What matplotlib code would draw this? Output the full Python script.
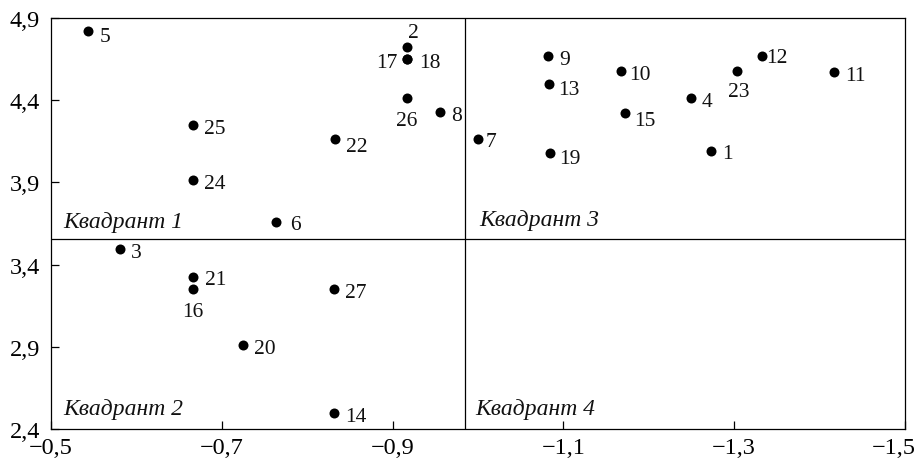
import matplotlib.pyplot as plt
from matplotlib.ticker import FixedLocator, FuncFormatter
from matplotlib.transforms import ScaledTranslation

# ---------------------------------------------------------------------------
# Data
# ---------------------------------------------------------------------------
point_labels = [str(i) for i in range(1, 28)]
x_vals = [-1.273, -0.917, -0.581, -1.249, -0.543, -0.763, -1.000, -0.955, -1.082,
          -1.167, -1.417, -1.333, -1.083, -0.831, -1.172, -0.666, -0.917, -0.917,
          -1.084, -0.725, -0.666, -0.833, -1.303, -0.666, -0.666, -0.917, -0.831]
y_vals = [4.091, 4.725, 3.497, 4.415, 4.823, 3.661, 4.164, 4.326, 4.667,
          4.578, 4.573, 4.667, 4.499, 2.497, 4.324, 3.250, 4.651, 4.651,
          4.079, 2.909, 3.323, 4.164, 4.578, 3.915, 4.249, 4.413, 3.252]

x_split = -0.985
y_split = 3.555
x_ticks = [-0.5, -0.7, -0.9, -1.1, -1.3, -1.5]
y_ticks = [2.4, 2.9, 3.4, 3.9, 4.4, 4.9]
quadrant_names = ["Квадрант 1", "Квадрант 2", "Квадрант 3", "Квадрант 4"]

# label offsets in points (dx, dy to baseline, ha); default is right of the dot
DEFAULT_OFFSET = (8.0, -5.8, "left")
label_offsets = {
    "2": (4.3, 7.0, "center"),
    "17": (-7.0, -5.5, "right"),
    "18": (8.5, -5.5, "left"),
    "26": (0.0, -19.2, "center"),
    "23": (1.5, -17.8, "center"),
    "16": (0.0, -19.4, "center"),
    "22": (7.5, -8.4, "left"),
    "15": (7.0, -8.9, "left"),
    "13": (6.5, -7.2, "left"),
    "19": (6.5, -7.2, "left"),
    "5": (8.5, -7.2, "left"),
    "7": (5.5, -4.8, "left"),
    "12": (2.5, -3.9, "left"),
    "10": (6.0, -5.8, "left"),
    "1": (8.0, -5.3, "left"),
    "6": (10.5, -5.3, "left"),
    "21": (8.5, -4.8, "left"),
}

SERIF = ["Liberation Serif", "DejaVu Serif"]
plt.rcParams.update({
    "font.family": SERIF,
    "axes.linewidth": 0.9,
    "xtick.direction": "in",
    "ytick.direction": "in",
})


def fmt(v, _pos=None):
    s = f"{v:.1f}".replace(".", ",")
    return s.replace("-", "\u2212")


fig = plt.figure(figsize=(9.19, 4.64), dpi=100)
ax = fig.add_axes([51 / 919, 1 - 430 / 464, (905 - 51) / 919, (430 - 19) / 464])

ax.plot(x_vals, y_vals, "o", color="black", ms=7.2, mec="none", zorder=3)

for lab, x, y in zip(point_labels, x_vals, y_vals):
    dx, dy, ha = label_offsets.get(lab, DEFAULT_OFFSET)
    ax.annotate(lab, (x, y), xytext=(dx, dy), textcoords="offset points",
                ha=ha, va="baseline", fontsize=15.5, color="#111111")

ax.axvline(x_split, color="black", lw=0.9)
ax.axhline(y_split, color="black", lw=0.9)

ax.set_xlim(-0.5, -1.5)
ax.set_ylim(2.4, 4.9)
ax.xaxis.set_major_locator(FixedLocator(x_ticks))
ax.yaxis.set_major_locator(FixedLocator(y_ticks))
ax.xaxis.set_major_formatter(FuncFormatter(fmt))
ax.yaxis.set_major_formatter(FuncFormatter(fmt))
ax.tick_params(length=6, width=0.9, labelsize=17.5, colors="black")
ax.tick_params(axis="x", pad=5.5)
ax.tick_params(axis="y", pad=8)

q_kw = dict(textcoords="offset points", fontsize=17, style="italic",
            va="baseline", ha="left", color="#111111")
ax.annotate(quadrant_names[0], (-0.5, y_split), xytext=(8.5, 8.5), **q_kw)
ax.annotate(quadrant_names[1], (-0.5, 2.4), xytext=(8.5, 11), **q_kw)
ax.annotate(quadrant_names[2], (x_split, y_split), xytext=(10, 10.5), **q_kw)
ax.annotate(quadrant_names[3], (x_split, 2.4), xytext=(7, 11), **q_kw)

# the last x tick label sits pulled in so it stays inside the picture
fig.canvas.draw()
last = ax.get_xticklabels()[-1]
last.set_transform(last.get_transform() + ScaledTranslation(-11.5 / 100, 0, fig.dpi_scale_trans))

fig.savefig("out.png", dpi=100)
